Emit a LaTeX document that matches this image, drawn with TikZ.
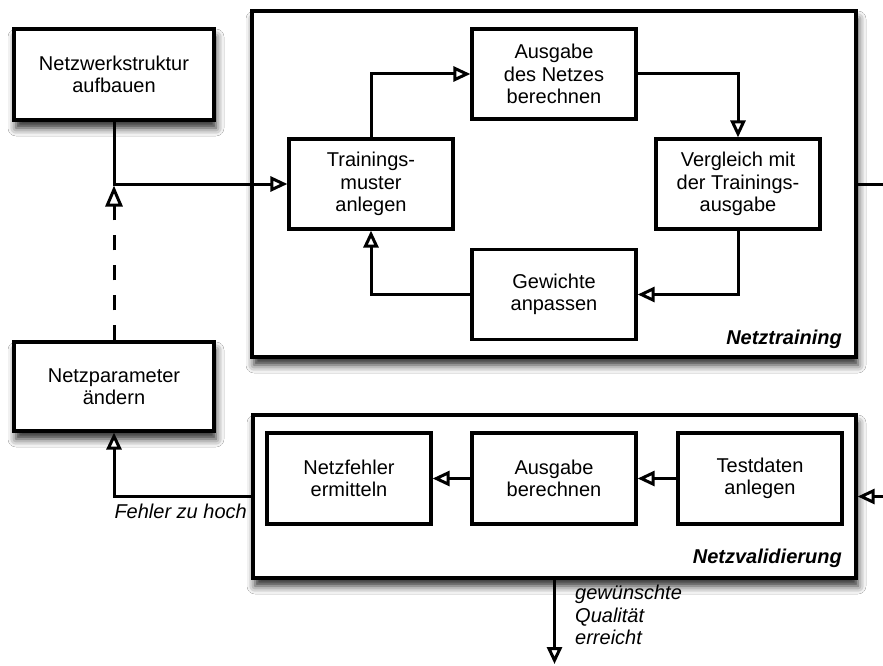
\documentclass[tikz,border=0pt]{standalone}
\usepackage{fontspec}
\setmainfont{Liberation Sans}
\usetikzlibrary{arrows.meta,shadows.blur}
\begin{document}
\begin{tikzpicture}[x=1pt,y=-1pt,
  every node/.style={font=\fontsize{20}{22.5}\selectfont},
  softshadow/.style={blur shadow={shadow xshift=2pt, shadow yshift=-8pt, shadow blur radius=8pt, shadow opacity=85}},
  stepbox/.style={draw, line width=3.2pt, fill=white, align=center,
    minimum width=164pt, minimum height=90pt, inner sep=0pt},
  outerbox/.style={stepbox, minimum width=200pt, softshadow},
  groupbox/.style={draw, line width=3.2pt, fill=white, inner sep=0pt, softshadow},
  link/.style={line width=3pt},
  conn/.style={link, -{Triangle[open, fill=white, length=17pt, width=15pt, line width=3pt]}},
  dashconn/.style={link, dash pattern=on 15pt off 15pt, -{Triangle[open, fill=white, length=21pt, width=17pt, line width=3pt]}},
  grouplabel/.style={font=\fontsize{20}{22.5}\selectfont\bfseries\itshape, anchor=base east, inner sep=0pt},
  note/.style={font=\fontsize{20}{22.5}\selectfont\itshape, inner sep=0pt}
]
\fill[white] (0,0) rectangle (883,666);
\useasboundingbox (0,0) rectangle (883,666);

% group frames
\node[groupbox, minimum width=604pt, minimum height=346pt] (trn) at (554,184) {};
\node[groupbox, minimum width=603pt, minimum height=163pt] (val) at (554.5,496.5) {};
\node[grouplabel] (trnlbl) at (842,344) {Netztraining};
\node[grouplabel] (vallbl) at (842,563) {Netzvalidierung};

% boxes outside the groups
\node[outerbox, minimum height=91pt] (nws) at (114,74.5) {Netzwerkstruktur\\aufbauen};
\node[outerbox, minimum height=89pt] (npa) at (114,386.5) {Netzparameter\\ändern};

% training loop
\node[stepbox] (tmu) at (371,184) {Trainings-\\muster\\anlegen};
\node[stepbox] (aus) at (554,74) {Ausgabe\\des Netzes\\berechnen};
\node[stepbox] (ver) at (738,184) {Vergleich mit\\der Trainings-\\ausgabe};
\node[stepbox] (gew) at (554,294.5) {Gewichte\\anpassen};

% validation chain
\node[stepbox, minimum height=91pt] (nfe) at (349,478.5) {Netzfehler\\ermitteln};
\node[stepbox, minimum height=91pt] (abe) at (554,478.5) {Ausgabe\\berechnen};
\node[stepbox, minimum height=91pt] (tda) at (760,478.5) {Testdaten\\anlegen};

% free ends leaving the drawing
\coordinate (jn) at (nws.south |- tmu.west);
\coordinate (outR) at (883,184);
\coordinate (inR) at (883,496.5);
\coordinate (outB) at (554.5,664);

% connectors
\draw[conn] (nws.south) |- (tmu.west);
\draw[dashconn, shorten >=1.5pt] (npa.north) -- (jn);
\draw[conn] (tmu.north) |- (aus.west);
\draw[conn] (aus.east) -| (ver.north);
\draw[conn] (ver.south) |- (gew.east);
\draw[conn] (gew.west) -| (tmu.south);
\draw[link] (trn.east) -- (outR);
\draw[conn] (inR) -- (val.east);
\draw[conn] (tda.west) -- (abe.east);
\draw[conn] (abe.west) -- (nfe.east);
\draw[conn] (val.west) -| (npa.south);
\draw[conn] (val.south) -- (outB);

% connector labels
\node[note, anchor=base east] (lblhigh) at (247,518) {Fehler zu hoch};
\node[note, anchor=north west, align=left] (lblok) at (575,585) {gewünschte\\Qualität\\erreicht};
\end{tikzpicture}
\end{document}
